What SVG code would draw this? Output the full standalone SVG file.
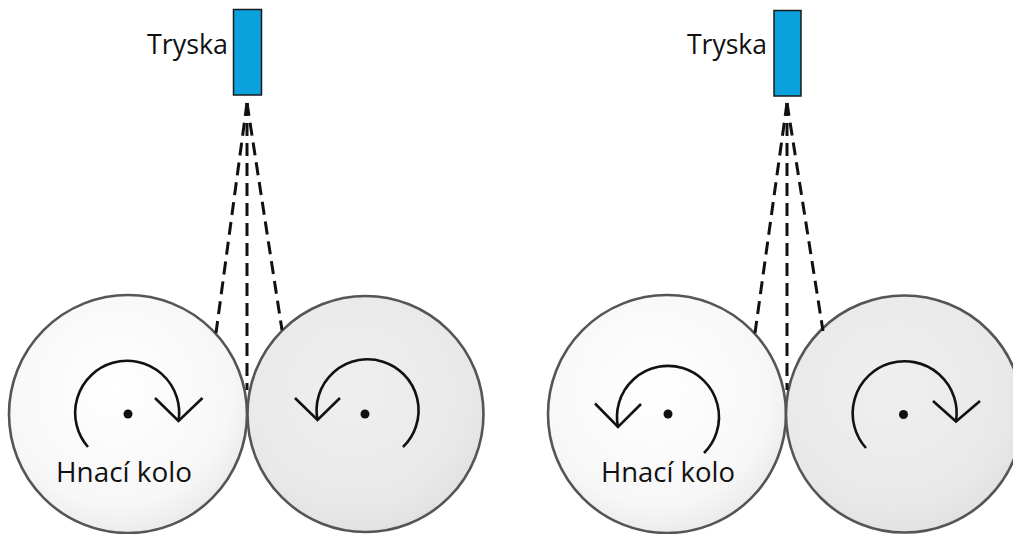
<svg xmlns="http://www.w3.org/2000/svg" width="1013" height="534" viewBox="0 0 1013 534">
<style>
.bg{fill:#ffffff}
.wheel{stroke:#555555;stroke-width:2.6}
.w1{fill:url(#g1)}
.w2{fill:url(#g2)}
.rot{fill:none;stroke:#111111;stroke-width:2.6;stroke-linecap:butt;stroke-linejoin:miter}
.dot{fill:#111111}
.nozzle{fill:#0aa1dd;stroke:#1a1a1a;stroke-width:1.5}
.lbl{font-family:"Open Sans","Liberation Sans",sans-serif;font-size:28px;fill:#111111}
.spray{fill:none;stroke:#111111;stroke-width:3;stroke-dasharray:13 7}
</style>
<defs>
<radialGradient id="g1" cx="0.45" cy="0.4" r="0.6">
<stop offset="0" stop-color="#ffffff"/>
<stop offset="0.8" stop-color="#f7f7f7"/>
<stop offset="1" stop-color="#ececec"/>
</radialGradient>
<radialGradient id="g2" cx="0.45" cy="0.4" r="0.6">
<stop offset="0" stop-color="#efefef"/>
<stop offset="0.8" stop-color="#e9e9e9"/>
<stop offset="1" stop-color="#e2e2e2"/>
</radialGradient>
</defs>
<rect class="bg" x="0" y="0" width="1013" height="534"/>

<g id="left-drive-wheel">
<circle class="wheel w1" cx="128" cy="414" r="119"/>
<path class="rot" d="M 88 447 A 52 52 0 1 1 178.5 421"/>
<path class="rot" d="M 155 398 L 178.5 421 L 202.5 398"/>
<circle class="dot" cx="128" cy="414" r="4.5"/>
<text class="lbl" x="56" y="481.5" textLength="136" lengthAdjust="spacingAndGlyphs">Hnací kolo</text>
</g>

<g id="left-second-wheel">
<circle class="wheel w2" cx="365.5" cy="414" r="118"/>
<path class="rot" d="M 403 447 A 51 51 0 1 0 317.5 420"/>
<path class="rot" d="M 295 398 L 317.5 420 L 340 398"/>
<circle class="dot" cx="365" cy="414" r="4.5"/>
</g>

<g id="left-nozzle">
<rect class="nozzle" x="233.5" y="9.5" width="28" height="85.5"/>
<text class="lbl" x="147" y="54" textLength="81" lengthAdjust="spacingAndGlyphs">Tryska</text>
</g>

<g id="right-drive-wheel">
<circle class="wheel w1" cx="667" cy="414" r="119"/>
<path class="rot" d="M 704 453 A 51 51 0 1 0 618 427"/>
<path class="rot" d="M 595 403.5 L 618 427 L 641 404"/>
<circle class="dot" cx="668" cy="414" r="4.5"/>
<text class="lbl" x="601" y="481.5" textLength="134" lengthAdjust="spacingAndGlyphs">Hnací kolo</text>
</g>

<g id="right-second-wheel">
<circle class="wheel w2" cx="904.5" cy="414" r="118.5"/>
<path class="rot" d="M 866 448 A 52 52 0 1 1 956 421.5"/>
<path class="rot" d="M 933 401 L 956 421.5 L 980 401"/>
<circle class="dot" cx="903.5" cy="414.5" r="4.5"/>
</g>

<g id="right-nozzle">
<rect class="nozzle" x="774" y="10.5" width="27" height="85.5"/>
<text class="lbl" x="687" y="54" textLength="80" lengthAdjust="spacingAndGlyphs">Tryska</text>
</g>

<g id="connectors">
<line class="spray" x1="247" y1="103" x2="216" y2="333"/>
<line class="spray" x1="247" y1="103" x2="247" y2="390"/>
<line class="spray" x1="247" y1="103" x2="282" y2="330"/>
<line class="spray" x1="787" y1="103" x2="755" y2="333"/>
<line class="spray" x1="787" y1="103" x2="787" y2="390"/>
<line class="spray" x1="787" y1="103" x2="823" y2="331"/>
</g>
</svg>
